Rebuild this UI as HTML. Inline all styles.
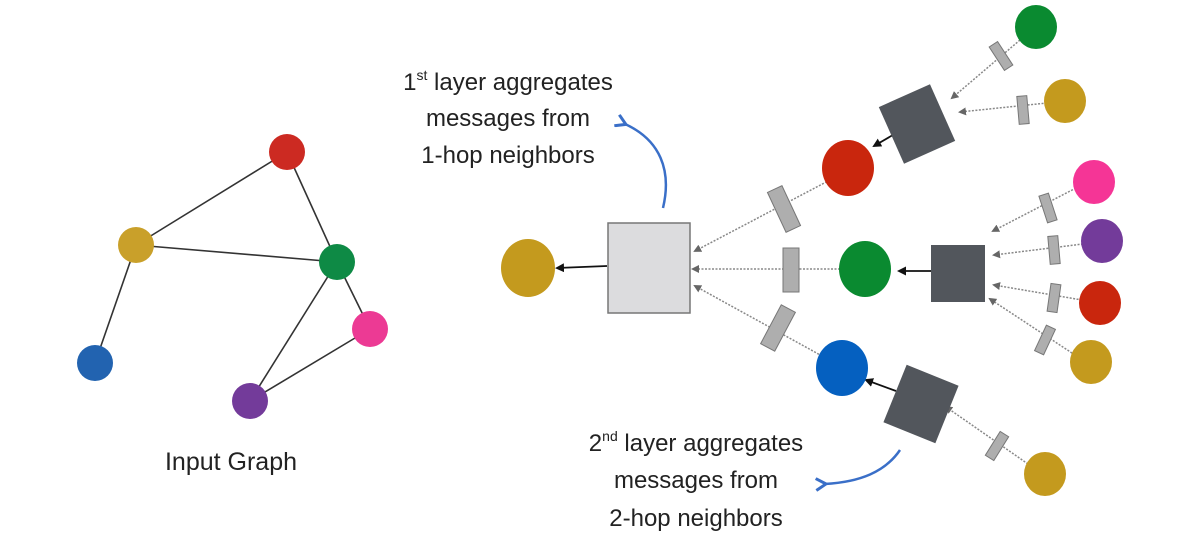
<!DOCTYPE html>
<html><head><style>body{margin:0;background:#fff}svg{display:block}text{font-family:"Liberation Sans",sans-serif;fill:#222}</style></head><body>
<svg width="1200" height="533" viewBox="0 0 1200 533">
<defs>
<marker id="ag" markerWidth="8" markerHeight="8" refX="6" refY="4" orient="auto" markerUnits="userSpaceOnUse"><path d="M0,0 L8,4 L0,8Z" fill="#666"/></marker>
<marker id="ak" markerWidth="9" markerHeight="9" refX="7" refY="4.5" orient="auto" markerUnits="userSpaceOnUse"><path d="M0,0 L9,4.5 L0,9Z" fill="#111"/></marker>
<marker id="ab" markerWidth="14" markerHeight="14" refX="3" refY="7" orient="auto" markerUnits="userSpaceOnUse"><path d="M12,1 L2,7 L12,13" fill="none" stroke="#3a6fc8" stroke-width="3"/></marker>
</defs>
<!-- left graph -->
<g stroke="#333" stroke-width="1.6">
<line x1="287" y1="152" x2="136" y2="245"/><line x1="287" y1="152" x2="337" y2="262"/>
<line x1="136" y1="245" x2="337" y2="262"/><line x1="136" y1="245" x2="95" y2="363"/>
<line x1="337" y1="262" x2="370" y2="329"/><line x1="337" y1="262" x2="250" y2="401"/>
<line x1="370" y1="329" x2="250" y2="401"/>
</g>
<circle cx="287" cy="152" r="18" fill="#cc2a22"/><circle cx="136" cy="245" r="18" fill="#c9a02a"/>
<circle cx="337" cy="262" r="18" fill="#0e8a45"/><circle cx="370" cy="329" r="18" fill="#ec3a94"/>
<circle cx="250" cy="401" r="18" fill="#733b9a"/><circle cx="95" cy="363" r="18" fill="#2263b0"/>
<text x="231" y="470" font-size="25" text-anchor="middle">Input Graph</text>
<!-- dotted arrows -->
<g stroke="#888" stroke-width="1.5" stroke-dasharray="2,1.5" marker-end="url(#ag)" fill="none">
<line x1="830" y1="180" x2="695" y2="251"/>
<line x1="840" y1="269" x2="693" y2="269"/>
<line x1="822" y1="356" x2="695" y2="286"/>
<line x1="1020" y1="40" x2="952" y2="98"/>
<line x1="1047" y1="103" x2="960" y2="112"/>
<line x1="1076" y1="188" x2="993" y2="231"/>
<line x1="1083" y1="244" x2="994" y2="255"/>
<line x1="1082" y1="300" x2="994" y2="285"/>
<line x1="1075" y1="355" x2="990" y2="299"/>
<line x1="1028" y1="464" x2="946" y2="407"/>
</g>
<!-- black arrows -->
<g stroke="#111" stroke-width="1.8" marker-end="url(#ak)">
<line x1="607" y1="266" x2="557" y2="268"/>
<line x1="931" y1="271" x2="899" y2="271"/>
<line x1="898" y1="132" x2="874" y2="146"/>
<line x1="896" y1="391" x2="866" y2="380"/>
</g>
<!-- squares -->
<rect x="608" y="223" width="82" height="90" fill="#dcdcde" stroke="#777" stroke-width="1.5"/>
<rect x="931" y="245" width="54" height="57" fill="#52565c"/>
<rect x="-28" y="-31" width="56" height="62" fill="#52565c" transform="translate(917,124) rotate(-24)"/>
<rect x="-28" y="-31" width="56" height="62" fill="#52565c" transform="translate(921,404) rotate(22)"/>
<!-- circles -->
<ellipse cx="528" cy="268" rx="27" ry="29" fill="#c49a1e"/>
<ellipse cx="848" cy="168" rx="26" ry="28" fill="#c9260d"/>
<ellipse cx="865" cy="269" rx="26" ry="28" fill="#0a8a30"/>
<ellipse cx="842" cy="368" rx="26" ry="28" fill="#0560c0"/>
<ellipse cx="1036" cy="27" rx="21" ry="22" fill="#0a8a30"/>
<ellipse cx="1065" cy="101" rx="21" ry="22" fill="#c49a1e"/>
<ellipse cx="1094" cy="182" rx="21" ry="22" fill="#f53596"/>
<ellipse cx="1102" cy="241" rx="21" ry="22" fill="#733b9a"/>
<ellipse cx="1100" cy="303" rx="21" ry="22" fill="#c9260d"/>
<ellipse cx="1091" cy="362" rx="21" ry="22" fill="#c49a1e"/>
<ellipse cx="1045" cy="474" rx="21" ry="22" fill="#c49a1e"/>
<!-- small rects -->
<g fill="#aeaeae" stroke="#777" stroke-width="1">
<rect x="-8" y="-22" width="16" height="44" transform="translate(784,209) rotate(-25)"/>
<rect x="783" y="248" width="16" height="44"/>
<rect x="-8" y="-22" width="16" height="44" transform="translate(778,328) rotate(28)"/>
<rect x="-5" y="-14" width="10" height="28" transform="translate(1001,56) rotate(-33)"/>
<rect x="-5" y="-14" width="10" height="28" transform="translate(1023,110) rotate(-5)"/>
<rect x="-5" y="-14" width="10" height="28" transform="translate(1048,208) rotate(-18)"/>
<rect x="-5" y="-14" width="10" height="28" transform="translate(1054,250) rotate(-5)"/>
<rect x="-5" y="-14" width="10" height="28" transform="translate(1054,298) rotate(8)"/>
<rect x="-5" y="-14" width="10" height="28" transform="translate(1045,340) rotate(25)"/>
<rect x="-5" y="-14" width="10" height="28" transform="translate(997,446) rotate(32)"/>
</g>
<!-- blue curves -->
<path d="M663,208 C672,170 660,140 625,124" fill="none" stroke="#3a6fc8" stroke-width="2.5" marker-end="url(#ab)"/>
<path d="M900,450 C885,472 860,482 825,484" fill="none" stroke="#3a6fc8" stroke-width="2.5" marker-end="url(#ab)"/>
<!-- texts -->
<g font-size="24" text-anchor="middle">
<text x="508" y="90">1<tspan font-size="14" dy="-10">st</tspan><tspan dy="10"> layer aggregates</tspan></text>
<text x="508" y="126">messages from</text>
<text x="508" y="163">1-hop neighbors</text>
<text x="696" y="451">2<tspan font-size="14" dy="-10">nd</tspan><tspan dy="10"> layer aggregates</tspan></text>
<text x="696" y="488">messages from</text>
<text x="696" y="526">2-hop neighbors</text>
</g>
</svg>
</body></html>
